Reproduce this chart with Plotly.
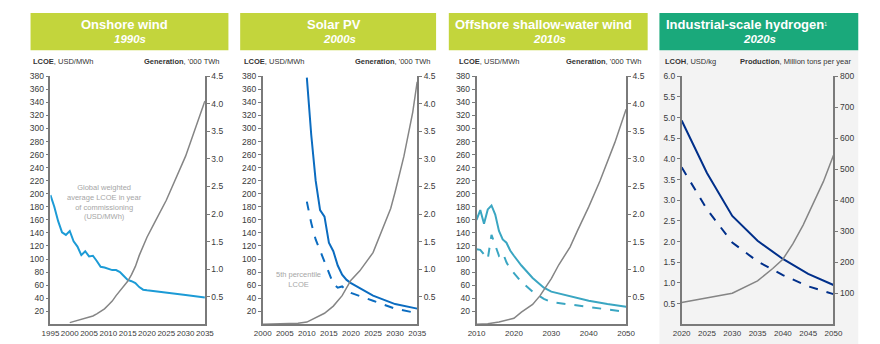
import plotly.graph_objects as go

# ---------------- data ----------------
# Panel 1: Onshore wind
on_lcoe_years = [1995, 1996, 1997, 1998, 1999, 2000, 2001, 2002, 2003, 2004, 2005, 2006, 2007, 2008, 2009,
                 2010, 2011, 2012, 2013, 2014, 2015, 2016, 2017, 2018, 2019, 2020, 2025, 2030, 2035]
on_lcoe = [198, 180, 158, 141, 137, 143, 127, 119, 106, 112, 104, 105, 97, 88, 87,
           85, 83, 83, 80, 74, 68, 66, 63, 57, 53, 52, 49, 45, 41]
on_gen_years = [2000, 2001, 2002, 2003, 2004, 2005, 2006, 2007, 2008, 2009, 2010, 2011, 2012, 2013, 2014,
                2015, 2016, 2017, 2018, 2019, 2020, 2022, 2025, 2030, 2035]
on_gen = [0.03, 0.05, 0.07, 0.09, 0.11, 0.13, 0.15, 0.19, 0.24, 0.28, 0.35, 0.42, 0.52, 0.60, 0.68,
          0.78, 0.90, 1.05, 1.25, 1.42, 1.58, 1.85, 2.25, 3.05, 4.05]

# Panel 2: Solar PV
pv_years = [2010, 2011, 2012, 2013, 2014, 2015, 2016, 2017, 2018, 2019, 2020, 2025, 2030, 2035]
pv_lcoe = [378, 290, 220, 175, 165, 125, 112, 90, 76, 68, 63, 44, 31, 24]
pv_p5 = [188, 155, 130, 113, 97, 78, 62, 56, 58, 52, 48, 36, 24, 17]
pv_gen_years = [2000, 2005, 2008, 2010, 2012, 2014, 2016, 2018, 2020, 2022, 2025, 2027, 2029, 2030,
                2032, 2034, 2035]
pv_gen = [0.0, 0.01, 0.02, 0.04, 0.12, 0.20, 0.33, 0.52, 0.80, 0.97, 1.30, 1.70, 2.10, 2.40,
          3.05, 3.85, 4.40]

# Panel 3: Offshore shallow-water wind
off_years = [2010, 2011, 2012, 2013, 2014, 2015, 2016, 2017, 2018, 2019, 2020, 2022, 2025, 2028,
             2030, 2035, 2040, 2045, 2050]
off_lcoe = [160, 175, 154, 176, 182, 168, 143, 130, 125, 113, 105, 90, 71, 56, 50, 43, 36, 31, 27]
off_p5 = [115, 114, 107, 100, 137, 121, 105, 110, 95, 85, 78, 65, 50, 39, 34, 30, 26, 23, 19]
off_gen_years = [2010, 2013, 2016, 2018, 2020, 2022, 2025, 2027, 2030, 2032, 2035, 2037, 2040, 2043,
                 2045, 2047, 2050]
off_gen = [0.0, 0.01, 0.04, 0.07, 0.11, 0.22, 0.36, 0.52, 0.83, 1.08, 1.40, 1.70, 2.13, 2.60,
           2.95, 3.30, 3.90]

# Panel 4: Industrial-scale hydrogen
h2_years = [2020, 2025, 2030, 2035, 2040, 2045, 2050]
h2_lcoh = [4.93, 3.66, 2.62, 2.02, 1.58, 1.22, 0.95]
h2_p5 = [3.80, 2.78, 1.98, 1.52, 1.19, 0.92, 0.73]
h2_prod_years = [2020, 2025, 2030, 2035, 2038, 2040, 2042, 2044, 2046, 2048, 2050]
h2_prod = [70, 85, 100, 140, 180, 210, 260, 320, 390, 460, 545]

# tick labels
lcoe_ticks = list(range(20, 381, 20))
gen_ticks = [0.5, 1.0, 1.5, 2.0, 2.5, 3.0, 3.5, 4.0, 4.5]
lcoh_ticks = [0.5, 1.0, 1.5, 2.0, 2.5, 3.0, 3.5, 4.0, 4.5, 5.0, 5.5, 6.0]
prod_ticks = [100, 200, 300, 400, 500, 600, 700, 800]
x1_ticks = list(range(1995, 2036, 5))
x2_ticks = list(range(2000, 2036, 5))
x3_ticks = list(range(2010, 2051, 10))
x4_ticks = list(range(2020, 2051, 5))

titles = ["Onshore wind", "Solar PV", "Offshore shallow-water wind", "Industrial-scale hydrogen"]
decades = ["1990s", "2000s", "2010s", "2020s"]
left_titles = ["<b>LCOE</b>, USD/MWh"] * 3 + ["<b>LCOH</b>, USD/kg"]
right_titles = ["<b>Generation</b>, '000 TWh"] * 3 + ["<b>Production</b>, Million tons per year"]

# ---------------- styling ----------------
W, H = 880, 344
def px(x): return x / W
def py(y): return 1 - y / H

GREY = "#858585"
AX = "#7a7a7a"
TXT = "#3a3a3a"
FONT = "Liberation Sans"

fig = go.Figure()

def add(x, y, xa, ya, color, width=2, dash="solid"):
    fig.add_trace(go.Scatter(x=x, y=y, xaxis=xa, yaxis=ya, mode="lines",
                             line=dict(color=color, width=width, dash=dash),
                             hoverinfo="skip", showlegend=False))

# panel backgrounds / headers
shapes = []
shapes.append(dict(type="rect", xref="paper", yref="paper", x0=px(664), x1=px(867), y0=py(344), y1=py(46),
                   fillcolor="#f3f3f3", line=dict(width=0), layer="below"))
headers = [(22, 224, "#c3d53c"), (236, 436, "#c3d53c"), (449, 652, "#c3d53c"), (664, 867, "#1aa97b")]
for x0, x1, c in headers:
    shapes.append(dict(type="rect", xref="paper", yref="paper", x0=px(x0), x1=px(x1), y0=py(46), y1=py(8),
                       fillcolor=c, line=dict(width=0), layer="below"))

# traces
add(on_gen_years, on_gen, "x", "y2", GREY, 1.5)
add(on_lcoe_years, on_lcoe, "x", "y", "#1c9bd6", 2)

add(pv_gen_years, pv_gen, "x2", "y4", GREY, 1.5)
add(pv_years, pv_p5, "x2", "y3", "#0b6cc0", 2, "dash")
add(pv_years, pv_lcoe, "x2", "y3", "#0b6cc0", 2)

add(off_gen_years, off_gen, "x3", "y6", GREY, 1.5)
add(off_years, off_p5, "x3", "y5", "#3aa6c2", 2, "dash")
add(off_years, off_lcoe, "x3", "y5", "#3aa6c2", 2)

add(h2_prod_years, h2_prod, "x4", "y8", GREY, 1.5)
add(h2_years, h2_p5, "x4", "y7", "#002f8a", 2, "dash")
add(h2_years, h2_lcoh, "x4", "y7", "#002f8a", 2)

xdoms = [(42.3, 200), (259, 416.7), (477.3, 630), (686.7, 841.7)]
xranges = [[1995, 2035], [2000, 2035], [2010, 2050], [2020, 2050]]
xticks = [x1_ticks, x2_ticks, x3_ticks, x4_ticks]
lranges = [[0, 380]] * 3 + [[0, 6]]
rranges = [[0, 4.5]] * 3 + [[0, 800]]
lticks = [lcoe_ticks] * 3 + [lcoh_ticks]
rticks = [gen_ticks] * 3 + [prod_ticks]
lfmt = ["d"] * 3 + [".1f"]
rfmt = [".1f"] * 3 + ["d"]

ydom = [py(324), py(72.3)]
ytickfont = dict(family=FONT, size=8.5, color=TXT)
xtickfont = dict(family=FONT, size=8, color=TXT)
layout = dict(width=W, height=H, margin=dict(l=0, r=0, t=0, b=0),
              paper_bgcolor="white", plot_bgcolor="rgba(0,0,0,0)", shapes=shapes)

for i in range(4):
    xs = "" if i == 0 else str(i + 1)
    yl = "" if i == 0 else str(2 * i + 1)
    yr = str(2 * i + 2)
    layout["xaxis" + xs] = dict(domain=[px(xdoms[i][0]), px(xdoms[i][1])], range=xranges[i],
                                tickvals=xticks[i], showline=True, linecolor=AX, linewidth=1.5,
                                showgrid=False, zeroline=False, ticks="", tickfont=xtickfont,
                                tickangle=0, anchor="y" + yl, fixedrange=True)
    layout["yaxis" + yl] = dict(domain=ydom, range=lranges[i], tickvals=lticks[i], tickformat=lfmt[i],
                                showline=True, linecolor=AX, linewidth=1.5, showgrid=False, zeroline=False,
                                ticks="outside", ticklen=3, tickcolor=AX, tickfont=ytickfont,
                                anchor="x" + xs, side="left")
    layout["yaxis" + yr] = dict(domain=ydom, range=rranges[i], tickvals=rticks[i], tickformat=rfmt[i],
                                showline=True, linecolor=AX, linewidth=1.5, showgrid=False, zeroline=False,
                                ticks="outside", ticklen=3, tickcolor=AX, tickfont=ytickfont,
                                anchor="x" + xs, side="right", overlaying="y" + yl)

annotations = []
title_cx = [118, 331.7, 546, 753]
sub_cx = [124, 337.7, 552, 766]
for i in range(4):
    t = "<b>" + titles[i] + "</b>"
    if i == 3:
        t += "<span style='font-size:7px'><sup>1</sup></span>"
    annotations.append(dict(xref="paper", yref="paper", x=px(title_cx[i]), y=py(20), text=t,
                            showarrow=False, xanchor="center", yanchor="middle",
                            font=dict(family=FONT, size=13, color="white")))
    annotations.append(dict(xref="paper", yref="paper", x=px(sub_cx[i]), y=py(35), text="<b><i>" + decades[i] + "</i></b>",
                            showarrow=False, xanchor="center", yanchor="middle",
                            font=dict(family=FONT, size=11.5, color="white")))
lt_x = [22, 238, 457, 668]
rt_x = [217, 433, 648, 862]
for i in range(4):
    annotations.append(dict(xref="paper", yref="paper", x=px(lt_x[i]), y=py(57), text=left_titles[i],
                            showarrow=False, xanchor="left", yanchor="middle",
                            font=dict(family=FONT, size=7.5, color="#333333")))
    annotations.append(dict(xref="paper", yref="paper", x=px(rt_x[i]), y=py(57), text=right_titles[i],
                            showarrow=False, xanchor="right", yanchor="middle",
                            font=dict(family=FONT, size=7.5, color="#333333")))

annotations.append(dict(xref="paper", yref="paper", x=px(98), y=py(200),
                        text="Global weighted<br>average LCOE in year<br>of commissioning<br>(USD/MWh)",
                        showarrow=False, xanchor="center", yanchor="middle",
                        font=dict(family=FONT, size=7.5, color="#a6a6a6")))
annotations.append(dict(xref="paper", yref="paper", x=px(296), y=py(279),
                        text="5th percentile<br>LCOE",
                        showarrow=False, xanchor="center", yanchor="middle",
                        font=dict(family=FONT, size=7.5, color="#a6a6a6")))
layout["annotations"] = annotations

fig.update_layout(**layout)
fig.write_html("out.html")
